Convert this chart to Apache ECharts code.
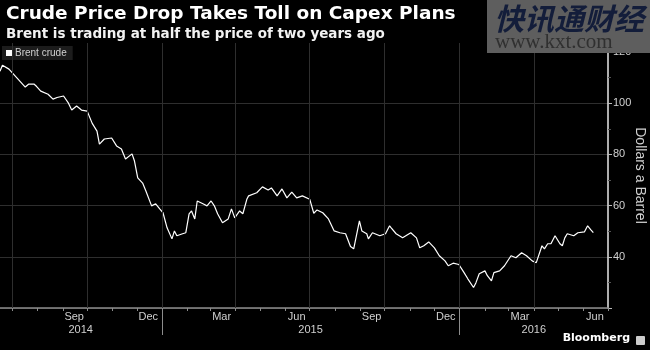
<!DOCTYPE html>
<html>
<head>
<meta charset="utf-8">
<script src="https://cdn.jsdelivr.net/npm/echarts@6/dist/echarts.min.js"></script>
<style>
html,body{margin:0;padding:0;background:#000;}
#chart{width:650px;height:350px;background:#000;}
</style>
</head>
<body>
<div id="chart"></div>
<script>
// ---- data ----
const dates = [
'2014-06-16','2014-06-19','2014-06-27','2014-07-07','2014-07-17','2014-07-21','2014-07-28','2014-07-31',
'2014-08-05','2014-08-14','2014-08-20','2014-08-25','2014-09-02','2014-09-08','2014-09-12','2014-09-18',
'2014-09-24','2014-10-01','2014-10-07','2014-10-13','2014-10-16','2014-10-22','2014-10-31','2014-11-06',
'2014-11-12','2014-11-17','2014-11-25','2014-11-28','2014-12-02','2014-12-08','2014-12-12','2014-12-19',
'2014-12-24','2014-12-29','2015-01-02','2015-01-07','2015-01-13','2015-01-16','2015-01-19','2015-01-26',
'2015-01-30','2015-02-03','2015-02-06','2015-02-10','2015-02-13','2015-02-20','2015-02-25','2015-03-02',
'2015-03-06','2015-03-10','2015-03-16','2015-03-23','2015-03-27','2015-03-31','2015-04-06','2015-04-10',
'2015-04-15','2015-04-17','2015-04-27','2015-05-04','2015-05-11','2015-05-15','2015-05-22','2015-05-28',
'2015-06-03','2015-06-09','2015-06-15','2015-06-22','2015-07-01','2015-07-06','2015-07-10','2015-07-17',
'2015-07-24','2015-07-31','2015-08-07','2015-08-14','2015-08-20','2015-08-24','2015-08-26','2015-08-31',
'2015-09-03','2015-09-09','2015-09-11','2015-09-16','2015-09-25','2015-10-02','2015-10-07','2015-10-09',
'2015-10-15','2015-10-23','2015-11-02','2015-11-04','2015-11-09','2015-11-13','2015-11-18','2015-11-24',
'2015-12-01','2015-12-07','2015-12-14','2015-12-18','2015-12-24','2015-12-31','2016-01-06','2016-01-11',
'2016-01-18','2016-01-21','2016-01-25','2016-02-01','2016-02-04','2016-02-09','2016-02-12','2016-02-19',
'2016-02-25','2016-03-04','2016-03-10','2016-03-17','2016-03-23','2016-03-30','2016-04-04','2016-04-11',
'2016-04-14','2016-04-18','2016-04-22','2016-04-27','2016-05-03','2016-05-06','2016-05-09','2016-05-12',
'2016-05-20','2016-05-25','2016-06-02','2016-06-06','2016-06-10','2016-06-13'
];
const brent = [
112.5,114.8,113.3,109.8,106.3,107.4,107.4,106.5,
104.7,103.5,101.6,102.2,102.8,100.0,97.3,98.9,
97.3,96.9,92.2,89.1,84.0,86.0,86.4,83.3,
82.1,78.2,80.2,77.4,70.8,68.8,65.7,59.9,
60.7,58.7,57.2,51.3,47.0,50.1,48.2,49.0,
49.4,56.8,57.9,54.8,61.8,60.7,59.9,61.8,
59.9,56.8,53.3,54.8,58.7,55.2,57.9,56.8,
62.6,63.8,65.0,67.3,66.1,66.9,63.8,66.5,
63.0,65.3,63.0,63.8,62.5,57.0,58.3,57.2,
54.8,50.1,49.4,49.0,44.0,43.1,43.5,54.0,
50.1,49.0,47.0,49.4,48.2,49.0,52.1,51.3,
49.0,47.4,49.4,50.1,47.4,43.5,44.3,45.8,
43.5,40.4,38.4,36.5,37.5,37.0,34.0,31.4,
28.0,29.9,33.4,34.5,32.6,30.6,33.8,34.5,
36.5,40.4,39.6,41.6,40.4,38.4,37.7,44.3,
43.1,45.1,45.1,48.2,45.1,44.3,47.4,49.0,
48.2,49.4,49.7,52.1,50.5,49.4
];
const seriesName = 'Brent crude';
const monthLabelDates = ['2014-09-15','2014-12-15','2015-03-15','2015-06-15','2015-09-15','2015-12-15','2016-03-15','2016-06-15'];
const monthLabels = ['Sep','Dec','Mar','Jun','Sep','Dec','Mar','Jun'];
const yearLabelDates = ['2014-09-23','2015-07-02','2016-04-01'];
const yearLabels = ['2014','2015','2016'];
const yearBreakDates = ['2015-01-01','2016-01-01'];
const quarterGridDates = ['2014-07-01','2014-10-01','2015-01-01','2015-04-01','2015-07-01','2015-10-01','2016-01-01','2016-04-01'];
const yTicks = [20,40,60,80,100,120];
const yLabelValues = [40,60,80,100,120];
const xStart = '2014-06-16';
const xEnd = '2016-07-01';

// ---- build ----
const ts = s => Date.parse(s + 'T00:00:00Z');
const xMin = ts(xStart), xMax = ts(xEnd);
const monthTicks = [];
for (let y = 2014, m = 6; ; ) {
  const t = Date.UTC(y, m, 1);
  if (t > xMax) break;
  monthTicks.push(t);
  m++; if (m > 11) { m = 0; y++; }
}
const monthLabelTs = monthLabelDates.map(ts);
const yearLabelTs = yearLabelDates.map(ts);
function lookup(arrTs, labels) {
  return function (v) {
    let best = -1, bd = Infinity;
    arrTs.forEach((t, i) => { const d = Math.abs(t - v); if (d < bd) { bd = d; best = i; } });
    return bd < 86400000 ? labels[best] : '';
  };
}
const lineData = dates.map((d, i) => [ts(d), brent[i]]);
const FONT = 'Liberation Sans';

const chart = echarts.init(document.getElementById('chart'), null, {renderer: 'canvas'});
chart.setOption({
  animation: false,
  darkMode: false,
  backgroundColor: 'transparent',
  title: [
    {
      text: 'Crude Price Drop Takes Toll on Capex Plans',
      subtext: 'Brent is trading at half the price of two years ago',
      left: 1, top: 0, itemGap: 3,
      textStyle: {color: '#fff', fontFamily: 'DejaVu Sans', fontWeight: 'bold', fontSize: 18.5},
      subtextStyle: {color: '#f2f2f2', fontFamily: 'DejaVu Sans', fontWeight: 'bold', fontSize: 13.5}
    },
    {
      text: 'Bloomberg', right: 20, top: 333, padding: 0,
      textStyle: {color: '#fff', fontFamily: 'DejaVu Sans', fontWeight: 'bold', fontSize: 11}
    }
  ],
  legend: {
    left: 2, top: 46, padding: [2, 6, 2, 4],
    backgroundColor: '#1c1c1c',
    icon: 'rect', itemWidth: 6, itemHeight: 6, itemGap: 4,
    textStyle: {color: '#d0d0d0', fontFamily: FONT, fontSize: 10, padding: [0, 0, 0, -2]},
    data: [seriesName]
  },
  grid: {left: 0, right: 42, top: 43, bottom: 42, containLabel: false, outerBoundsMode: 'none'},
  xAxis: [
    {
      type: 'value', min: xMin, max: xMax, position: 'bottom',
      axisLine: {show: true, lineStyle: {color: '#8c8c8c', width: 1.5}},
      axisTick: {show: true, customValues: monthTicks, length: 3, lineStyle: {color: '#8c8c8c'}},
      axisLabel: {show: true, customValues: monthLabelTs, formatter: lookup(monthLabelTs, monthLabels),
                  color: '#d0d0d0', fontFamily: FONT, fontSize: 11, margin: 3},
      splitLine: {show: false}
    },
    {
      type: 'value', min: xMin, max: xMax, position: 'bottom', offset: 0,
      axisLine: {show: false},
      axisTick: {show: true, customValues: yearBreakDates.map(ts), length: 27, lineStyle: {color: '#8c8c8c'}},
      axisLabel: {show: true, customValues: yearLabelTs, formatter: lookup(yearLabelTs, yearLabels),
                  color: '#d0d0d0', fontFamily: FONT, fontSize: 11, margin: 16},
      splitLine: {show: false}
    }
  ],
  yAxis: {
    type: 'value', position: 'right', min: 20, max: 123.5, interval: 20,
    name: 'Dollars a Barrel', nameLocation: 'middle', nameRotate: -90, nameGap: 25, nameMoveOverlap: false,
    nameTextStyle: {color: '#d0d0d0', fontFamily: FONT, fontSize: 14},
    axisLine: {show: true, lineStyle: {color: '#e8e8e8', width: 1.5}},
    axisTick: {show: true, customValues: yTicks, length: 4, lineStyle: {color: '#bbbbbb'}},
    minorTick: {show: true, splitNumber: 2, length: 3, lineStyle: {color: '#555'}},
    axisLabel: {customValues: yLabelValues, color: '#d0d0d0', fontFamily: FONT, fontSize: 11, margin: 5},
    splitLine: {show: true, showMaxLine: false, lineStyle: {color: '#2e2e2e', width: 1}}
  },
  series: [{
    name: seriesName, type: 'line', data: lineData,
    showSymbol: false, symbol: 'none',
    lineStyle: {color: '#ffffff', width: 1.2},
    itemStyle: {color: '#ffffff'},
    markLine: {
      silent: true, symbol: ['none', 'none'], label: {show: false},
      lineStyle: {color: '#2e2e2e', width: 1, type: 'solid'},
      data: quarterGridDates.map(d => ({xAxis: ts(d)}))
    },
    z: 3
  }],
  graphic: {
    elements: [
      {type: 'rect', left: 487, top: 0, z: 100, shape: {width: 163, height: 53}, style: {fill: '#5e5e5e'}},
      {type: 'text', left: 494, top: 4, z: 101,
       style: {text: '快讯通财经', fill: '#131d3a', fontSize: 30, fontWeight: 'bold', fontStyle: 'italic', fontFamily: 'Noto Sans CJK SC'}},
      {type: 'text', left: 495, top: 32, z: 101,
       style: {text: 'www.kxt.com', fill: '#303030', fontSize: 21, fontFamily: 'Liberation Serif'}},
      {type: 'rect', right: 5, top: 336, z: 101, shape: {width: 9, height: 9, r: 1}, style: {fill: '#cccccc'}}
    ]
  }
});
</script>
</body>
</html>
